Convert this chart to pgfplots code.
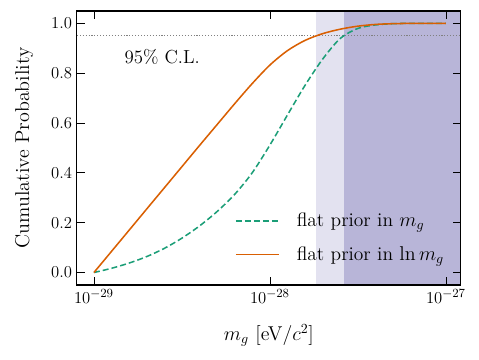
\documentclass[border=0pt]{standalone}
\usepackage{pgfplots}
\pgfplotsset{compat=1.18}
\definecolor{flatm}{HTML}{1B9E77}
\definecolor{flatln}{HTML}{D95F02}
\definecolor{bandlight}{HTML}{E3E2F0}
\definecolor{banddark}{HTML}{B8B5D8}

\begin{document}
\begin{tikzpicture}
\begin{axis}[
at={(0,0)},
anchor=south west,
scale only axis,
width=276.5pt,
height=197.3pt,
xmode=log,
xmin=8.0e-30, xmax=1.216e-27,
ymin=-0.05, ymax=1.05,
log basis x=10,
xtick={1e-29,1e-28,1e-27},
ytick={0,0.2,0.4,0.6,0.8,1.0},
yticklabel style={/pgf/number format/.cd, fixed, fixed zerofill, precision=1},
tick align=inside,
xtick pos=both, ytick pos=both,
major tick length=5.5pt,
minor tick length=3pt,
every tick/.style={black, line width=0.6pt},
axis line style={line width=0.8pt},
xlabel={$m_g$ [eV$/c^2$]},
ylabel={Cumulative Probability},
xlabel style={yshift=-8pt},
ylabel style={yshift=6pt},
tick label style={font=\fontsize{12.6}{15}\selectfont},
label style={font=\fontsize{14.4}{17}\selectfont},
legend style={draw=none, fill=none, at={(0.975,0.06)}, anchor=south east,
  font=\fontsize{14}{17}\selectfont, row sep=9pt},
legend cell align=left,
legend image code/.code={\draw[#1] (0pt,0pt) -- (31pt,0pt); \path[draw=none] (0pt,0pt) -- (42pt,0pt);},
axis on top,
]
% shaded bands
\addplot[draw=none, fill=bandlight, forget plot] coordinates {
(1.82e-28,-0.05) (2.63e-28,-0.05) (2.63e-28,1.05) (1.82e-28,1.05)} -- cycle;
\addplot[draw=none, fill=banddark, forget plot] coordinates {
(2.63e-28,-0.05) (1.216e-27,-0.05) (1.216e-27,1.05) (2.63e-28,1.05)} -- cycle;
% 95% line
\addplot[gray, line width=0.8pt, dash pattern=on 0.8pt off 1.3pt, forget plot] coordinates {(8.0e-30,0.95) (1.216e-27,0.95)};

\addplot[flatm, line width=1.1pt, smooth, tension=0.5, dash pattern=on 4.3pt off 2.2pt] coordinates {
(1.000e-29,0.000)
(1.259e-29,0.017)
(1.585e-29,0.038)
(1.995e-29,0.064)
(2.512e-29,0.097)
(3.162e-29,0.138)
(3.981e-29,0.187)
(5.012e-29,0.245)
(6.310e-29,0.314)
(7.943e-29,0.401)
(1.000e-28,0.512)
(1.259e-28,0.633)
(1.585e-28,0.752)
(1.995e-28,0.857)
(2.512e-28,0.940)
(3.162e-28,0.980)
(3.981e-28,0.994)
(5.012e-28,0.999)
(6.310e-28,1.000)
(1.000e-27,1.000)
};
\addlegendentry{flat prior in $m_g$}

\addplot[flatln, line width=1.1pt, smooth, tension=0.5] coordinates {
(1.000e-29,0.000)
(1.259e-29,0.085)
(1.585e-29,0.170)
(1.995e-29,0.255)
(2.512e-29,0.340)
(3.162e-29,0.425)
(3.981e-29,0.510)
(5.012e-29,0.594)
(6.310e-29,0.678)
(7.943e-29,0.759)
(1.000e-28,0.833)
(1.259e-28,0.891)
(1.585e-28,0.932)
(1.995e-28,0.959)
(2.512e-28,0.977)
(3.162e-28,0.989)
(3.981e-28,0.996)
(5.012e-28,0.999)
(6.310e-28,1.000)
(1.000e-27,1.000)
};
\addlegendentry{flat prior in $\ln m_g$}

\node[anchor=west, font=\fontsize{13.6}{16}\selectfont] at (axis cs:1.40e-29,0.867) {95\% C.L.};
\end{axis}
\useasboundingbox (-55.4pt,-54pt) rectangle (289.5pt,205.2pt);
\end{tikzpicture}
\end{document}
